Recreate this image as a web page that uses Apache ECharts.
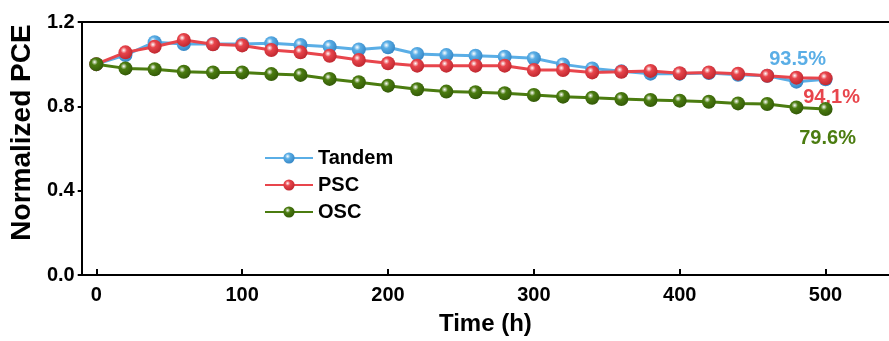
<!DOCTYPE html>
<html>
<head>
<meta charset="utf-8">
<script src="https://cdn.jsdelivr.net/npm/echarts@6/dist/echarts.min.js"></script>
<style>
html,body{margin:0;padding:0;background:#fff;}
#chart{width:889px;height:341px;}
</style>
</head>
<body>
<div id="chart"></div>
<script>
const seriesNames = ['Tandem', 'PSC', 'OSC'];
const time = [0,20,40,60,80,100,120,140,160,180,200,220,240,260,280,300,320,340,360,380,400,420,440,460,480,500];
const tandem = [1.00,1.043,1.104,1.096,1.096,1.096,1.099,1.091,1.083,1.07,1.08,1.048,1.043,1.04,1.035,1.028,0.999,0.98,0.966,0.955,0.955,0.958,0.95,0.945,0.917,0.928];
const psc = [1.00,1.056,1.083,1.115,1.094,1.089,1.067,1.056,1.04,1.02,1.004,0.993,0.993,0.993,0.993,0.972,0.972,0.961,0.964,0.968,0.957,0.961,0.955,0.945,0.936,0.933];
const osc = [1.00,0.98,0.976,0.964,0.961,0.961,0.953,0.949,0.93,0.914,0.898,0.881,0.87,0.867,0.862,0.854,0.846,0.841,0.835,0.83,0.827,0.822,0.814,0.811,0.795,0.787];
const endLabels = ['93.5%', '94.1%', '79.6%'];
const xTicks = [0,100,200,300,400,500];

const colors = ['#5aaee6', '#e8454c', '#4b7c10'];
const darks = ['#2f7fbf', '#b8222a', '#2f5406'];
const labelOffsets = [[-28,-20],[6,19],[2,29]];
const FONT = 'Liberation Sans, Arial, sans-serif';

function grad(i){
  return {type:'radial', x:0.38, y:0.35, r:0.75, colorStops:[
    {offset:0, color:'#ffffff'},
    {offset:0.3, color:colors[i]},
    {offset:1, color:darks[i]}
  ]};
}

const allVals = [tandem, psc, osc];
const series = seriesNames.map((name, i) => ({
  name: name,
  type: 'line',
  xAxisIndex: 0,
  symbol: 'circle',
  symbolSize: 14,
  lineStyle: {color: colors[i], width: 3},
  itemStyle: {color: grad(i), borderWidth: 0},
  z: 2 + i,
  data: time.map((t, k) => {
    const d = {value: [t, allVals[i][k]]};
    if (k === time.length - 1) {
      d.label = {
        show: true, position: 'inside', formatter: endLabels[i],
        offset: labelOffsets[i], color: colors[i],
        fontFamily: FONT, fontWeight: 'bold', fontSize: 20
      };
    }
    return d;
  })
}));

const chart = echarts.init(document.getElementById('chart'), null, {renderer:'canvas'});
chart.setOption({
  animation: false,
  backgroundColor: '#fff',
  grid: {left: 81, top: 22, right: 0, bottom: 66, show: false},
  legend: {
    data: seriesNames.map((n, i) => ({name: n, itemStyle: {color: grad(i)}})),
    orient: 'vertical', left: 259, top: 143,
    itemWidth: 48, itemHeight: 14, itemGap: 7,
    textStyle: {fontFamily: FONT, fontWeight: 'bold', fontSize: 20, color: '#000'}
  },
  xAxis: [{
    type: 'value', min: -10, max: 543.5,
    name: 'Time (h)', nameLocation: 'middle', nameGap: 37,
    nameTextStyle: {fontFamily: FONT, fontWeight: 'bold', fontSize: 24, color: '#000'},
    axisLine: {show: true, onZero: false, lineStyle: {color: '#000', width: 2}},
    axisTick: {show: true, inside: true, length: 6, lineStyle: {color: '#000', width: 2}, customValues: xTicks},
    axisLabel: {customValues: xTicks, margin: 10, fontFamily: FONT, fontWeight: 'bold', fontSize: 20, color: '#000'},
    splitLine: {show: false}
  }, {
    type: 'value', position: 'top', min: -10, max: 543.5,
    axisLine: {show: true, onZero: false, lineStyle: {color: '#000', width: 2}},
    axisTick: {show: false}, axisLabel: {show: false}, splitLine: {show: false}
  }],
  yAxis: {
    type: 'value', min: 0, max: 1.2, interval: 0.4,
    name: 'Normalized PCE', nameLocation: 'middle', nameGap: 42,
    nameTextStyle: {fontFamily: FONT, fontWeight: 'bold', fontSize: 28, color: '#000', padding: [0,0,0,32]},
    axisLine: {show: true, onZero: false, lineStyle: {color: '#000', width: 2}},
    axisTick: {show: true, inside: false, length: 4, lineStyle: {color: '#000', width: 2}},
    axisLabel: {margin: 7, fontFamily: FONT, fontWeight: 'bold', fontSize: 20, color: '#000',
      formatter: v => v.toFixed(1)},
    splitLine: {show: false}
  },
  series: series
});
</script>
</body>
</html>
